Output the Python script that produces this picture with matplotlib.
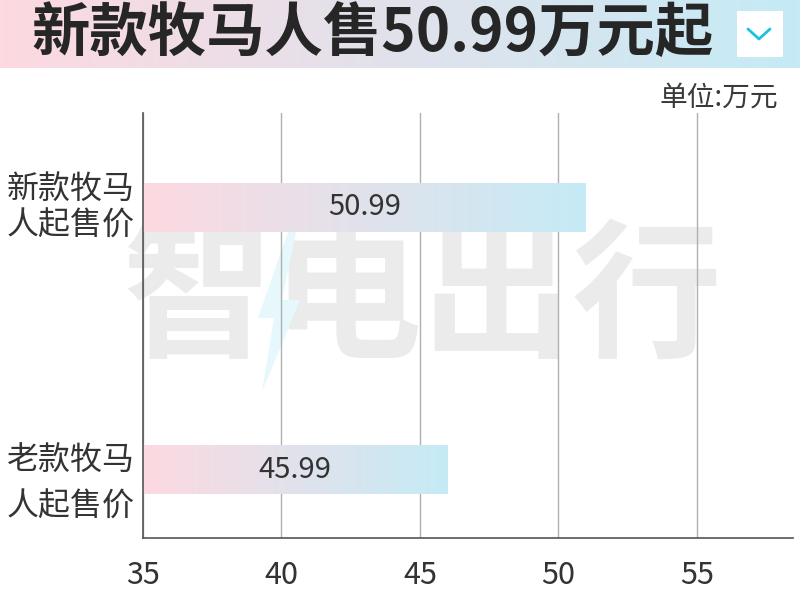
import numpy as np
import matplotlib
matplotlib.use("Agg")
import matplotlib.pyplot as plt
from matplotlib.patches import FancyBboxPatch, Polygon
from matplotlib.colors import LinearSegmentedColormap

plt.rcParams['font.family'] = ['Noto Sans CJK SC', 'DejaVu Sans']

# data
labels = ["新款牧马\n人起售价", "老款牧马\n人起售价"]
prices = [50.99, 45.99]
value_text = ["50.99", "45.99"]
xticks = [35, 40, 45, 50, 55]

title = "新款牧马人售50.99万元起"
unit = "单位:万元"
watermark = "智电出行"

pink = (253/255, 217/255, 225/255)
blue = (197/255, 235/255, 246/255)
cmap = LinearSegmentedColormap.from_list("pb", [pink, blue])
grad = np.linspace(0, 1, 256).reshape(1, -1)

fig = plt.figure(figsize=(8, 6), dpi=100)
W, H = 800, 600

# title band
tax = fig.add_axes([0, 1 - 68/H, 1, 68/H])
tax.imshow(grad, cmap=cmap, aspect='auto', extent=[0, 1, 0, 1])
tax.set_xlim(0, 1)
tax.set_ylim(0, 1)
tax.axis('off')
tax.text(373/W, 0.5, title, ha='center', va='center', fontsize=42,
         fontweight='bold', color='#262626')
box = FancyBboxPatch((737/W, 11/68), 46/W, 46/68,
                     boxstyle="round,pad=0,rounding_size=0.006",
                     fc='white', ec='none', transform=tax.transAxes,
                     mutation_aspect=H/W)
tax.add_patch(box)
tax.plot([748/W, 759/W, 770/W], [1 - 29/68, 1 - 39/68, 1 - 29/68],
         color='#19c3de', lw=2, transform=tax.transAxes, solid_capstyle='round')

fig.text(778/W, 1 - 98/H, unit, ha='right', va='center', fontsize=20, color='#3a3a3a')

# main axes
ax = fig.add_axes([143/W, 1 - 538/H, (793 - 143)/W, (538 - 113)/H])
ax.set_axisbelow(True)

# watermark, behind grid and bars
ax.text(423/W, 1 - 302/H, watermark, ha='center', va='center', fontsize=108,
        fontweight='bold', color='#ebebeb', zorder=0.3,
        transform=fig.transFigure, clip_on=False)
bolt = [(288, 232), (258, 318), (274, 318), (262, 392), (300, 300), (282, 300), (296, 232)]
ax.add_patch(Polygon([(x/W, 1 - y/H) for x, y in bolt], closed=True,
                     fc='#e6f8fb', ec='none', transform=fig.transFigure,
                     zorder=0.35, clip_on=False))

bar_h = 0.184
for i, v in enumerate(prices):
    ax.imshow(grad, cmap=cmap, aspect='auto', zorder=2,
              extent=[xticks[0], v, i + bar_h/2, i - bar_h/2])
    ax.text((xticks[0] + v)/2, i, value_text[i], ha='center', va='center',
            fontsize=21, color='#333333', zorder=3)

ax.set_xlim(35, 58.47)
ax.set_ylim(1.26, -0.36)
ax.set_xticks(xticks)
ax.set_xticklabels([str(t) for t in xticks], fontsize=22, color='#333333')
ax.tick_params(axis='x', length=0, pad=16)
ax.set_yticks([])
ax.grid(axis='x', color='#b0b0b0', lw=1)

# category labels
ax.text(-8/650, 0, labels[0], transform=ax.get_yaxis_transform(), ha='right',
        va='center', fontsize=23, color='#333333', linespacing=1.2)
ax.text(-8/650, 1.055, labels[1], transform=ax.get_yaxis_transform(), ha='right',
        va='center', fontsize=23, color='#333333', linespacing=1.55)

for s in ['top', 'right']:
    ax.spines[s].set_visible(False)
for s in ['left', 'bottom']:
    ax.spines[s].set_color('#555555')
    ax.spines[s].set_linewidth(1.2)

fig.savefig("out.png", dpi=100)
